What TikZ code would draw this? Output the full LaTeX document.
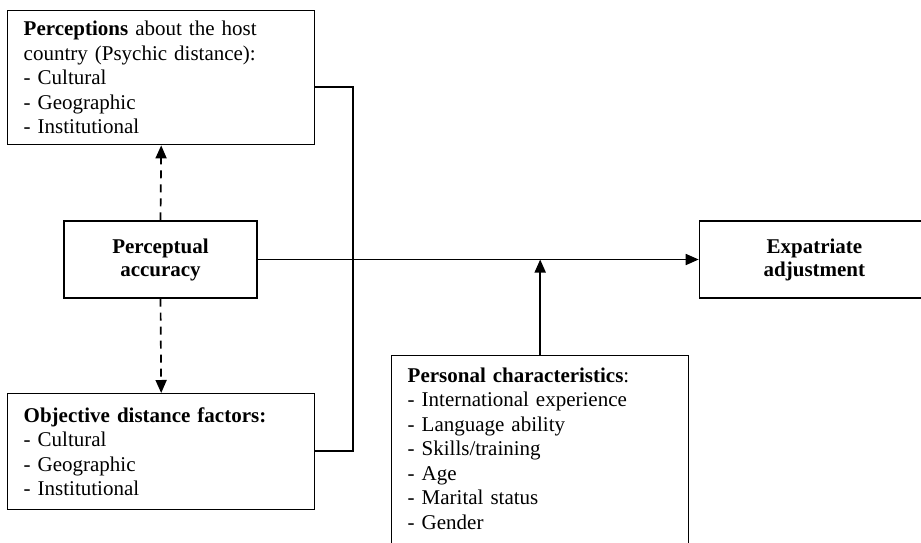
\documentclass[tikz,border=0pt]{standalone}
\usepackage{fontspec}
\setmainfont{Liberation Serif}
\usetikzlibrary{positioning, arrows.meta}
\tikzset{
    box/.style={rectangle, draw=black, line width=1.4pt, fill=white, align=left, inner xsep=16pt, font=\fontsize{21}{24.5}\selectfont},
    core/.style={rectangle, draw=black, line width=1.4pt, fill=white, align=center, font=\fontsize{21}{23}\selectfont\bfseries},
    arrow/.style={-{Triangle[length=13pt,width=11pt]}, line width=1.7pt},
    dasharrow/.style={arrow, dash pattern=on 8pt off 6pt},
    link/.style={line width=1.7pt}
}

\begin{document}
\begin{tikzpicture}[x=1pt, y=-1pt, node distance=1cm]
        \useasboundingbox (0,0) rectangle (921,543);
        \node[box, anchor=north west, text width=275pt, minimum height=134pt] (Perc) at (7,10) {\textbf{Perceptions} about the host\\country (Psychic distance):\\- Cultural\\- Geographic\\- Institutional};
        \node[core, minimum width=193pt, minimum height=77pt] (Acc) at (160.5,259.5) {Perceptual\\accuracy};
        \node[box, anchor=north west, text width=275pt, minimum height=116pt] (Obj) at (7,393) {\textbf{Objective distance factors:}\\- Cultural\\- Geographic\\- Institutional};
        \node[core, minimum width=230pt, minimum height=77pt, right=441pt of Acc] (Exp) {Expatriate\\adjustment};
        % box runs past the lower edge of the page
        \node[box, anchor=north west, text width=265pt, inner ysep=12pt] (Pers) at (391,355) {\textbf{Personal characteristics}:\\- International experience\\- Language ability\\- Skills/training\\- Age\\- Marital status\\- Gender\rule[-30pt]{0pt}{30pt}};

        % bracket joining both distance boxes
        \coordinate (brTop) at (353,87);
        \coordinate (brBot) at (353,451);
        \draw[link] (Perc.east |- brTop) -- (brTop) -- (brBot) -- (Obj.east |- brBot);

        \draw[dasharrow] (Acc.north) -- (Perc.south);
        \draw[dasharrow] (Acc.south) -- (Obj.north);
        \draw[arrow] (Acc.east) -- (Exp.west);
        \draw[arrow] (Pers.north) -- (Pers.north |- Acc.east);
    \end{tikzpicture}
\end{document}
